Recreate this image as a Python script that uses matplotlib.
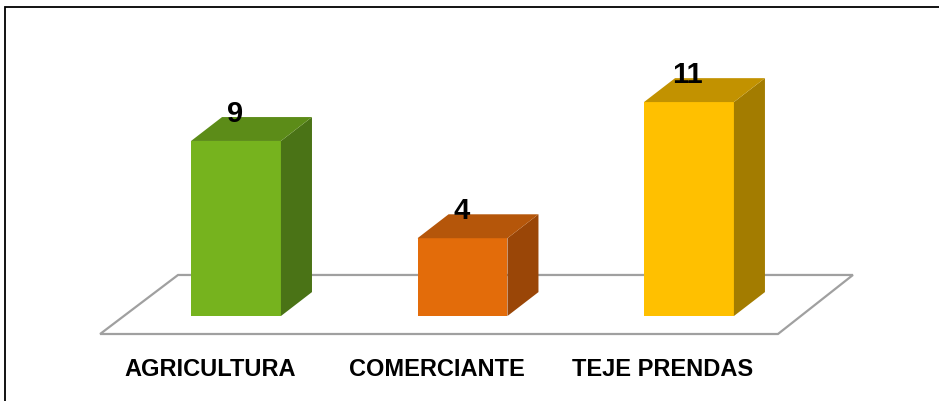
import matplotlib.pyplot as plt
from matplotlib.patches import Polygon, Rectangle

# datos
categorias = ['AGRICULTURA', 'COMERCIANTE', 'TEJE PRENDAS']
valores = [9, 4, 11]
col_frente = ['#76B31E', '#E36C0A', '#FFC000']
col_lado = ['#4A7316', '#9A4607', '#A37C00']
col_tope = ['#5C8C18', '#B5560A', '#C29200']

ancho = 0.397   # ancho de barra (unidades de categoria)
dx, dy = 0.137, 1.23  # profundidad 3D
fuente = ['Liberation Sans', 'DejaVu Sans']

fig = plt.figure(figsize=(9.39, 4.02), dpi=100)
ax = fig.add_axes([0, 0, 1, 1])
ax.set_xlim(-1.042, 3.104)
ax.set_ylim(-4.37, 16.30)
ax.axis('off')

# marco (coordenadas de pantalla, origen abajo)
fig.patches.append(Rectangle((5, -50), 1000, 394 + 50, transform=None, fill=False,
                             edgecolor='black', linewidth=1.3))

# piso
piso = Polygon([(-0.600, -0.925), (-0.256, 2.11), (2.724, 2.11), (2.393, -0.925)],
               closed=True, facecolor='white', edgecolor='#A0A0A0', linewidth=1.6, zorder=1)
ax.add_patch(piso)

for i, v in enumerate(valores):
    x0 = i - ancho / 2
    x1 = i + ancho / 2
    ax.add_patch(Polygon([(x0, 0), (x1, 0), (x1, v), (x0, v)], closed=True,
                         facecolor=col_frente[i], edgecolor='none', zorder=3))
    ax.add_patch(Polygon([(x1, 0), (x1 + dx, dy), (x1 + dx, v + dy), (x1, v)], closed=True,
                         facecolor=col_lado[i], edgecolor='none', zorder=3))
    ax.add_patch(Polygon([(x0, v), (x1, v), (x1 + dx, v + dy), (x0 + dx, v + dy)], closed=True,
                         facecolor=col_tope[i], edgecolor='none', zorder=3))
    ax.text(i - 0.005, v + 1.45, str(v), ha='center', va='center', fontsize=21,
            fontweight='bold', family=fuente, zorder=4)
    ax.text(i - 0.115, -2.72, categorias[i], ha='center', va='center', fontsize=17,
            fontweight='bold', family=fuente, zorder=4)

fig.savefig('out.png', dpi=100)
